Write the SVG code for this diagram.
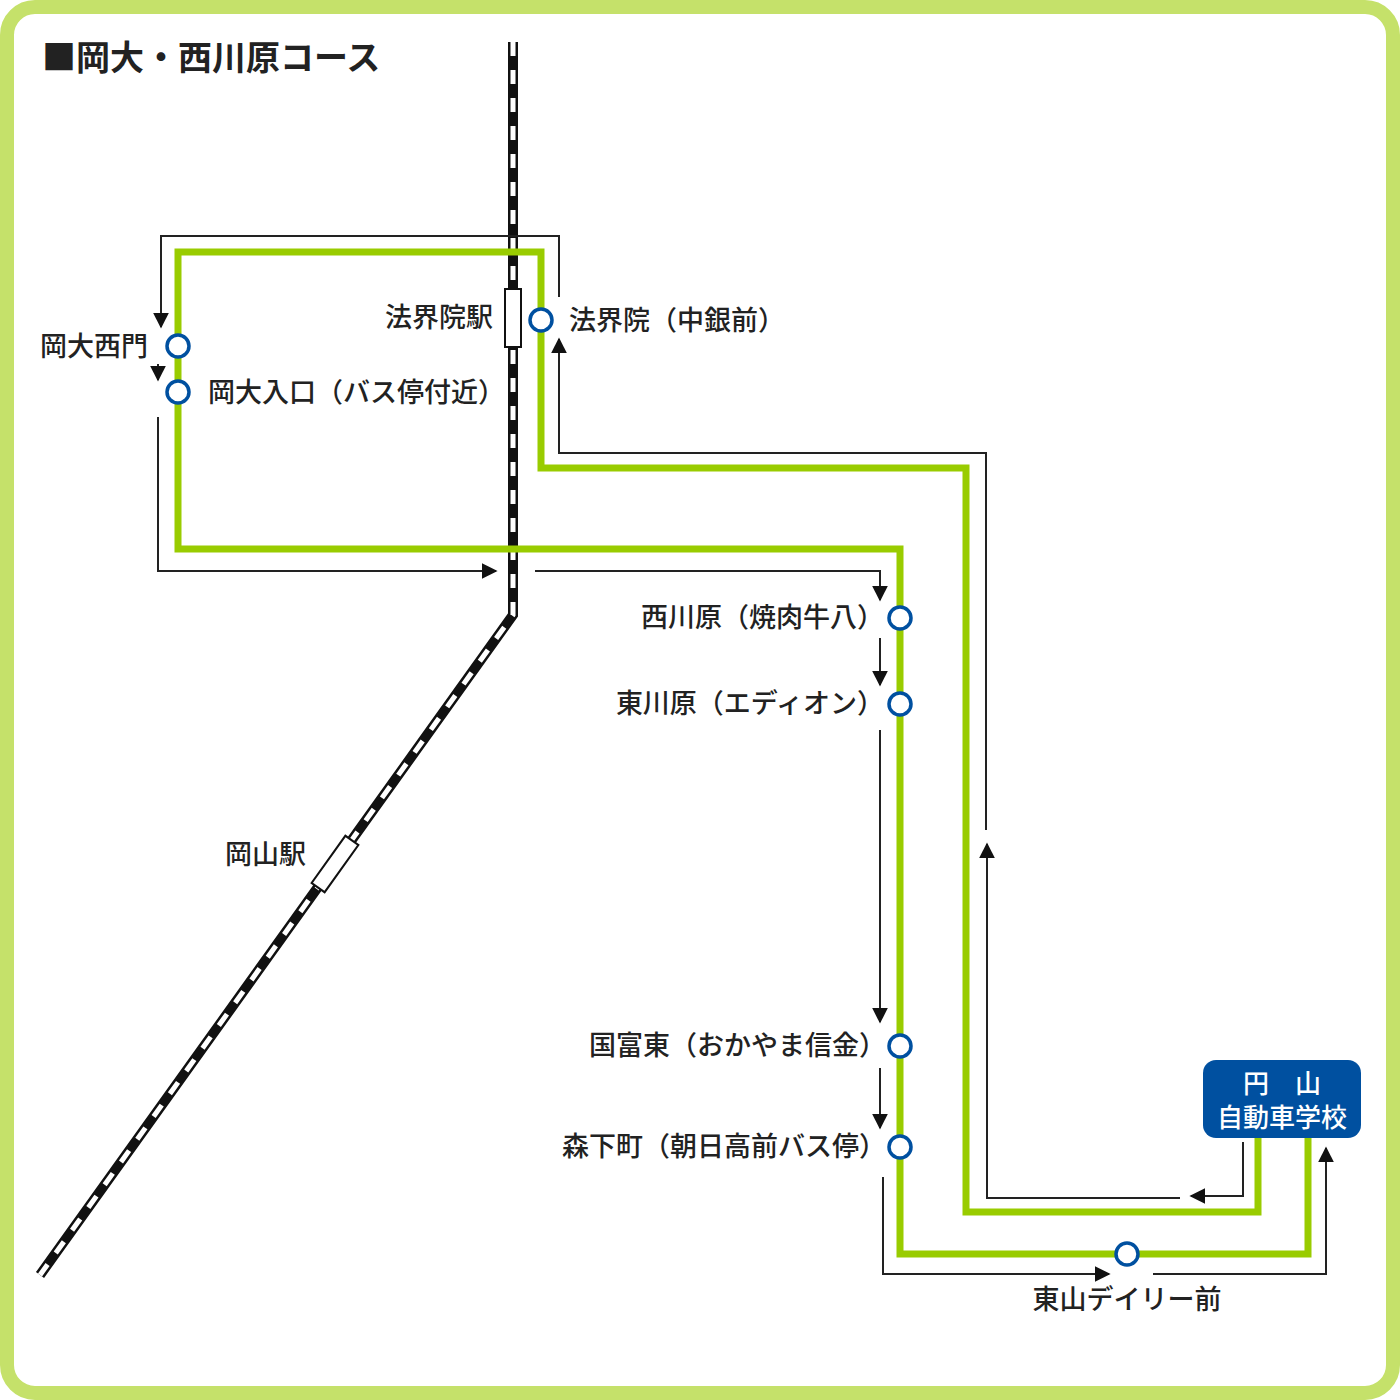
<svg xmlns="http://www.w3.org/2000/svg" width="1400" height="1400" viewBox="0 0 1400 1400">
<style>
text{font-family:"Noto Sans CJK JP","Noto Sans",sans-serif;fill:#222}
.lbl{font-size:27px;font-weight:500}
.thin{fill:none;stroke:#222;stroke-width:2}
.route{fill:none;stroke:#99cc00;stroke-width:7}
.stop{fill:#fff;stroke:#0050a0;stroke-width:3.5}
</style>
<defs>
<marker id="ah" viewBox="0 0 10 10" refX="9" refY="5" markerWidth="16" markerHeight="16" markerUnits="userSpaceOnUse" orient="auto"><path d="M0,0L10,5L0,10z" fill="#111"/></marker>
</defs>
<rect x="7" y="7" width="1386" height="1386" rx="28" fill="#fff" stroke="#c5e16a" stroke-width="14"/>
<text x="42" y="70" style="font-size:34px;font-weight:700">■岡大・西川原コース</text>
<g id="railway">
<path d="M513,42V615L40,1275" fill="none" stroke="#111" stroke-width="10"/>
<path d="M513,42V615L40,1275" fill="none" stroke="#fff" stroke-width="5" stroke-dasharray="14 14"/>
<rect x="505" y="289" width="16" height="58" fill="#fff" stroke="#111" stroke-width="2"/>
<rect x="327" y="835" width="16" height="58" fill="#fff" stroke="#111" stroke-width="2" transform="rotate(35.6 335 864)"/>
<text x="385" y="327" class="lbl">法界院駅</text>
<text x="225" y="864" class="lbl">岡山駅</text>
</g>
<g id="route">
<path class="route" d="M1258,1138V1212H966V468H541V252H178V549H900V1254H1308V1138"/>
</g>
<g id="connectors">
<path class="thin" d="M559,297V236H161V327" marker-end="url(#ah)"/>
<path class="thin" d="M158,364V380" marker-end="url(#ah)"/>
<path class="thin" d="M158,417V571H496" marker-end="url(#ah)"/>
<path class="thin" d="M535,571H880V600" marker-end="url(#ah)"/>
<path class="thin" d="M880,638V685" marker-end="url(#ah)"/>
<path class="thin" d="M880,730V1022" marker-end="url(#ah)"/>
<path class="thin" d="M880,1068V1128" marker-end="url(#ah)"/>
<path class="thin" d="M883,1177V1274H1109" marker-end="url(#ah)"/>
<path class="thin" d="M1153,1274H1326V1148" marker-end="url(#ah)"/>
<path class="thin" d="M1243,1142V1196H1191" marker-end="url(#ah)"/>
<path class="thin" d="M1180,1198H987V844" marker-end="url(#ah)"/>
<path class="thin" d="M986,830V453H559V339" marker-end="url(#ah)"/>
</g>
<g id="stop-horaiin"><circle class="stop" cx="541" cy="320" r="11"/><text x="569" y="330" class="lbl">法界院（中銀前）</text></g>
<g id="stop-okadai-nishimon"><circle class="stop" cx="178" cy="346" r="11"/><text x="40" y="356" class="lbl">岡大西門</text></g>
<g id="stop-okadai-iriguchi"><circle class="stop" cx="178" cy="392" r="11"/><text x="208" y="402" class="lbl">岡大入口（バス停付近）</text></g>
<g id="stop-nishikawara"><circle class="stop" cx="900" cy="618" r="11"/><text x="884" y="627" class="lbl" text-anchor="end">西川原（焼肉牛八）</text></g>
<g id="stop-higashikawara"><circle class="stop" cx="900" cy="704" r="11"/><text x="884" y="713" class="lbl" text-anchor="end">東川原（エディオン）</text></g>
<g id="stop-kunitomi"><circle class="stop" cx="900" cy="1046" r="11"/><text x="886" y="1055" class="lbl" text-anchor="end">国富東（おかやま信金）</text></g>
<g id="stop-morishita"><circle class="stop" cx="900" cy="1147" r="11"/><text x="886" y="1156" class="lbl" text-anchor="end">森下町（朝日高前バス停）</text></g>
<g id="stop-daily"><circle class="stop" cx="1127" cy="1254" r="11"/><text x="1127" y="1309" class="lbl" text-anchor="middle">東山デイリー前</text></g>
<g id="school">
<rect x="1203" y="1060" width="158" height="78" rx="13" fill="#0050a0"/>
<text x="1282" y="1093" text-anchor="middle" style="font-size:26px;font-weight:500;fill:#fff">円　山</text>
<text x="1282" y="1127" text-anchor="middle" style="font-size:26px;font-weight:500;fill:#fff">自動車学校</text>
</g>
</svg>
